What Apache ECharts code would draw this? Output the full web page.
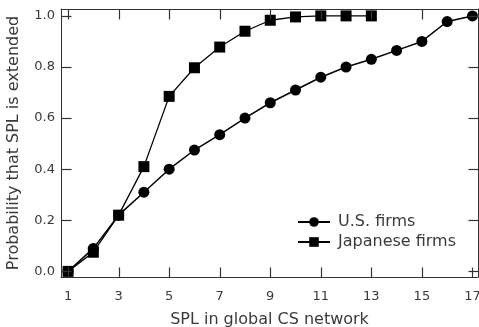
<!DOCTYPE html>
<html><head><meta charset="utf-8">
<script src="https://cdn.jsdelivr.net/npm/echarts@6/dist/echarts.min.js"></script>
<style>html,body{margin:0;padding:0;background:#fff}#c{width:479px;height:327px}</style>
</head><body><div id="c"></div>
<script>
const xValues = [1,2,3,4,5,6,7,8,9,10,11,12,13,14,15,16,17];
const usFirms = [0.0,0.09,0.22,0.31,0.40,0.475,0.535,0.60,0.66,0.71,0.76,0.80,0.83,0.865,0.90,0.978,1.0];
const jpX = [1,2,3,4,5,6,7,8,9,10,11,12,13];
const jpFirms = [0.0,0.075,0.22,0.41,0.685,0.797,0.878,0.94,0.983,0.996,1.0,1.0,1.0];
const xTicks = [1,3,5,7,9,11,13,15,17];
const xTopTicks = [1,3,5,7,9,11,13,15];
const yTicks = [0,0.2,0.4,0.6,0.8,1.0];
const seriesNames = ['U.S. firms','Japanese firms'];

const font = 'DejaVu Sans';
const axisColor = '#333';
const textColor = '#3a3a3a';
const xMin = 0.72, xMax = 17.22, yMin = -0.022, yMax = 1.027;
const tickLen = 10;

const tickData = []
  .concat(xTicks.map(v => [v, yMin, 0, -1]))
  .concat(xTopTicks.map(v => [v, yMax, 0, 1]))
  .concat(yTicks.map(v => [xMin, v, 1, 0]))
  .concat(yTicks.map(v => [xMax, v, -1, 0]));

const chart = echarts.init(document.getElementById('c'));
chart.setOption({
  animation: false,
  backgroundColor: '#fff',
  grid: {left: 61, right: 1, top: 9, bottom: 50, containLabel: false, outerBoundsMode: 'none'},
  legend: {
    left: 292, top: 209, orient: 'vertical', itemWidth: 32, itemHeight: 12, itemGap: 4,
    textStyle: {fontFamily: font, fontSize: 16, lineHeight: 16, color: textColor, padding: [0,0,0,3]},
    data: seriesNames
  },
  xAxis: [{
    type: 'value', min: xMin, max: xMax, position: 'bottom',
    name: 'SPL in global CS network', nameLocation: 'middle', nameGap: 35,
    nameTextStyle: {fontFamily: font, fontSize: 16, color: textColor},
    axisLine: {show: true, onZero: false, lineStyle: {color: axisColor, width: 1}},
    axisTick: {show: false},
    axisLabel: {customValues: xTicks, margin: 13, fontFamily: font, fontSize: 13, color: textColor},
    splitLine: {show: false}
  },{
    type: 'value', min: xMin, max: xMax, position: 'top',
    axisLine: {show: true, onZero: false, lineStyle: {color: axisColor, width: 1}},
    axisTick: {show: false},
    axisLabel: {show: false},
    splitLine: {show: false}
  }],
  yAxis: [{
    type: 'value', min: yMin, max: yMax, position: 'left',
    name: 'Probability that SPL is extended', nameLocation: 'middle', nameGap: 39,
    nameTextStyle: {fontFamily: font, fontSize: 16, color: textColor},
    axisLine: {show: true, onZero: false, lineStyle: {color: axisColor, width: 1}},
    axisTick: {show: false},
    axisLabel: {customValues: yTicks, margin: 6, fontFamily: font, fontSize: 13, color: textColor,
      formatter: v => v.toFixed(1)},
    splitLine: {show: false}
  },{
    type: 'value', min: yMin, max: yMax, position: 'right',
    axisLine: {show: true, onZero: false, lineStyle: {color: axisColor, width: 1}},
    axisTick: {show: false},
    axisLabel: {show: false},
    splitLine: {show: false}
  }],
  series: [{
    type: 'custom', xAxisIndex: 0, yAxisIndex: 0, clip: false, silent: true, z: 5,
    dimensions: ['x', 'y', 'dx', 'dy'],
    encode: {x: 0, y: 1},
    data: tickData,
    renderItem: function (params, api) {
      const p = api.coord([api.value(0), api.value(1)]);
      const dx = api.value(2) * tickLen, dy = api.value(3) * tickLen;
      const x = Math.round(p[0]) + 0.5, y = Math.round(p[1]) + 0.5;
      return {type: 'line', shape: {x1: x, y1: y, x2: x + dx, y2: y + dy},
        style: {stroke: axisColor, lineWidth: 1.2}};
    }
  },{
    name: seriesNames[0], type: 'line', xAxisIndex: 0, yAxisIndex: 0,
    data: xValues.map((x,i) => [x, usFirms[i]]),
    symbol: 'circle', symbolSize: 11,
    lineStyle: {color: '#000', width: 1.5}, itemStyle: {color: '#000'}
  },{
    name: seriesNames[1], type: 'line', xAxisIndex: 0, yAxisIndex: 0,
    data: jpX.map((x,i) => [x, jpFirms[i]]),
    symbol: 'rect', symbolSize: 11,
    lineStyle: {color: '#000', width: 1.3}, itemStyle: {color: '#000'}
  }]
});
</script></body></html>
